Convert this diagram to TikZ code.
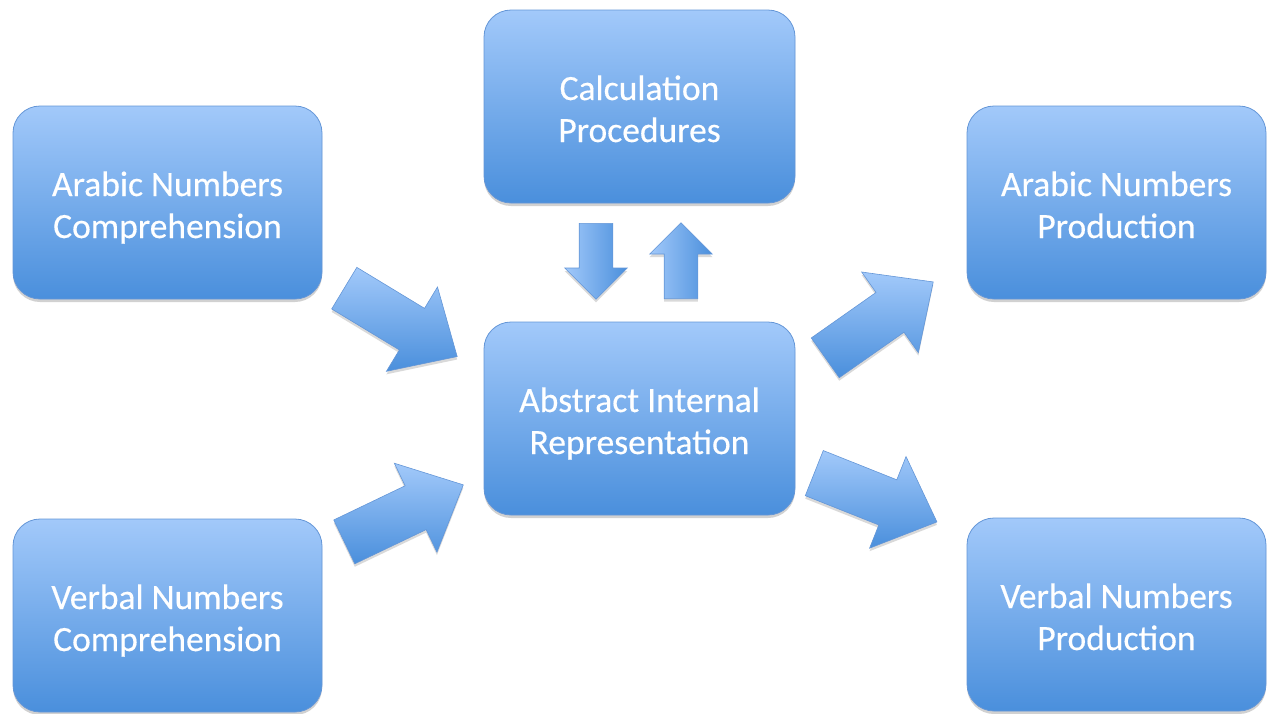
\documentclass[tikz,border=0pt]{standalone}
\usepackage{fontspec}
\newfontfamily\boxfont[FakeBold=0.4]{Carlito}
\usetikzlibrary{shapes.arrows,shadows}
\definecolor{boxtop}{RGB}{162,201,250}
\definecolor{boxbot}{RGB}{74,143,220}
\definecolor{boxedge}{RGB}{100,150,215}
\newcommand{\topstrut}{\rule{0pt}{37pt}}
\newcommand{\botstrut}{\rule[-8pt]{0pt}{8pt}}
\tikzset{
  blockbox/.style={rounded corners=27pt, draw=boxedge, line width=0.8pt,
    top color=boxtop, bottom color=boxbot, minimum height=193pt,
    text=white, align=center, inner sep=0pt,
    font=\boxfont\fontsize{35.5}{42}\selectfont,
    drop shadow={shadow xshift=0pt, shadow yshift=-3pt, opacity=0.18, fill=black}},
  diagarrow/.style={single arrow, draw=boxedge, line width=0.6pt,
    inner xsep=0pt, inner ysep=24pt, single arrow head extend=25pt,
    single arrow tip angle=86, minimum height=132pt, anchor=tail,
    top color=boxtop, bottom color=boxbot,
    drop shadow={shadow xshift=0pt, shadow yshift=-3pt, opacity=0.15, fill=black}},
  vertarrow/.style={single arrow, draw=boxedge, line width=0.6pt,
    inner xsep=0pt, inner ysep=16.5pt, single arrow head extend=14.5pt,
    single arrow tip angle=90, minimum height=76pt, anchor=tail,
    left color=boxtop, right color=boxbot,
    drop shadow={shadow xshift=0pt, shadow yshift=-3pt, opacity=0.15, fill=black}}
}
\begin{document}
\begin{tikzpicture}[x=1pt,y=-1pt]
\useasboundingbox (0,0) rectangle (1269,713);
% boxes
\node[blockbox, minimum width=309pt] (anc) at (167.5,202.5) {\topstrut Arabic Numbers\\Comprehension\botstrut};
\node[blockbox, minimum width=309pt] (vnc) at (167.5,615.5) {\topstrut Verbal Numbers\\Comprehension\botstrut};
\node[blockbox, minimum width=311pt] (cp)  at (639.5,106.5) {\topstrut Calculation\\Procedures\botstrut};
\node[blockbox, minimum width=311pt] (air) at (639.5,418.5) {\topstrut Abstract Internal\\Representation\botstrut};
\node[blockbox, minimum width=299pt] (anp) at (1116.5,202.5) {\topstrut Arabic Numbers\\Production\botstrut};
\node[blockbox, minimum width=299pt] (vnp) at (1116.5,614.5) {\topstrut Verbal Numbers\\Production\botstrut};
% arrow tails
\coordinate (t1) at (344,288);
\coordinate (t2) at (344,542);
\coordinate (t3) at (825,358);
\coordinate (t4) at (814,473);
\coordinate (t5) at (596,223);
\coordinate (t6) at (681,299);
% block arrows
\node[diagarrow, rotate=-31.2] (anc-air) at (t1) {};
\node[diagarrow, rotate=25.6] (vnc-air) at (t2) {};
\node[diagarrow, rotate=35.1] (air-anp) at (t3) {};
\node[diagarrow, rotate=-21.7] (air-vnp) at (t4) {};
\node[vertarrow, rotate=-90] (cp-air) at (t5) {};
\node[vertarrow, rotate=90] (air-cp) at (t6) {};
\end{tikzpicture}
\end{document}
